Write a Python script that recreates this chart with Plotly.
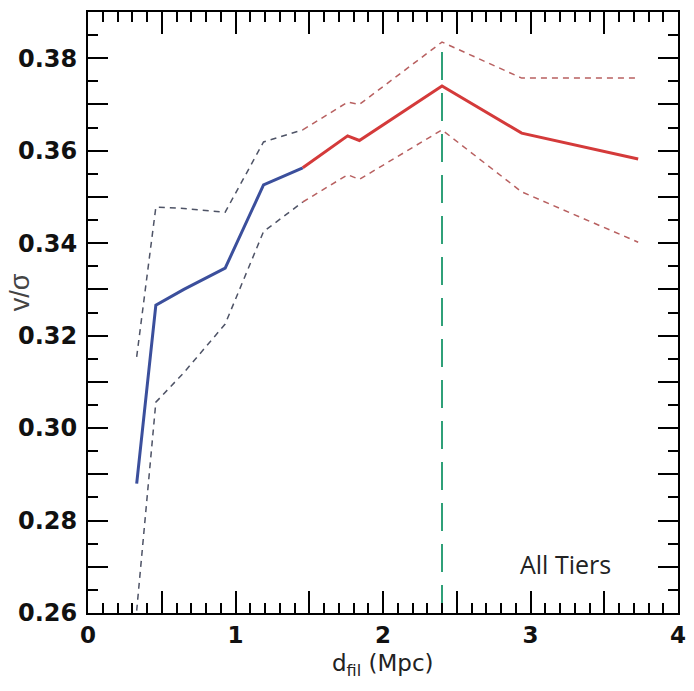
import plotly.graph_objects as go

# ---- data ----
d_fil = [0.33, 0.46, 0.65, 0.93, 1.19, 1.456, 1.76, 1.84, 2.40, 2.94, 3.73]
v_sigma = [0.288, 0.3266, 0.330, 0.3346, 0.3526, 0.3563, 0.3632, 0.3622, 0.374, 0.3638, 0.3582]
upper = [0.3154, 0.3478, 0.3475, 0.3467, 0.3619, 0.3645, 0.3705, 0.3700, 0.3835, 0.3757, 0.3757]
lower = [0.2605, 0.3056, 0.3120, 0.3225, 0.3425, 0.3489, 0.3548, 0.3538, 0.3645, 0.3511, 0.3402]
split = 5  # index where the curve changes from blue to red

y_ticks = [0.26, 0.27, 0.28, 0.29, 0.30, 0.31, 0.32, 0.33, 0.34, 0.35, 0.36, 0.37, 0.38]
x_ticks = [0, 0.5, 1, 1.5, 2, 2.5, 3, 3.5, 4]

BLUE = "#3b4f9c"
RED = "#d43a3a"
DASH_L = "#4e5366"
DASH_R = "#b86060"
GREEN = "#2fa078"

fig = go.Figure()

# bands
for arr in (upper, lower):
    fig.add_trace(go.Scatter(x=d_fil[:split + 1], y=arr[:split + 1], mode="lines",
                             line=dict(color=DASH_L, width=1.5, dash="6px,5px"),
                             showlegend=False, hoverinfo="skip"))
    fig.add_trace(go.Scatter(x=d_fil[split:], y=arr[split:], mode="lines",
                             line=dict(color=DASH_R, width=1.5, dash="6px,5px"),
                             showlegend=False, hoverinfo="skip"))

# main curve
fig.add_trace(go.Scatter(x=d_fil[:split + 1], y=v_sigma[:split + 1], mode="lines",
                         line=dict(color=BLUE, width=3), showlegend=False))
fig.add_trace(go.Scatter(x=d_fil[split:], y=v_sigma[split:], mode="lines",
                         line=dict(color=RED, width=3), showlegend=False))

# vertical line at the peak
ipk = v_sigma.index(max(v_sigma))
fig.add_trace(go.Scatter(x=[d_fil[ipk], d_fil[ipk]], y=[y_ticks[0], upper[ipk]], mode="lines",
                         line=dict(color=GREEN, width=2, dash="28px,13px"),
                         showlegend=False, hoverinfo="skip"))

ytickfont = dict(family="DejaVu Sans", size=24, color="#111", weight="bold")
xtickfont = dict(family="DejaVu Sans", size=23, color="#111", weight="bold")

fig.update_xaxes(range=[0, 4], showline=True, linecolor="black", linewidth=2,
                 mirror="ticks", ticks="inside", ticklen=22, tickwidth=2, tickcolor="black",
                 tickvals=x_ticks,
                 ticktext=[("%g" % v) if float(v).is_integer() else "" for v in x_ticks],
                 tickfont=xtickfont, ticklabelstandoff=0,
                 minor=dict(dtick=0.1, ticks="inside", ticklen=10, tickwidth=1.5, tickcolor="black"),
                 showgrid=False, zeroline=False)
fig.update_yaxes(range=[0.26, 0.39], showline=True, linecolor="black", linewidth=2,
                 mirror="ticks", ticks="inside", ticklen=20, tickwidth=2, tickcolor="black",
                 tickvals=y_ticks,
                 ticktext=[("%.2f" % v) if i % 2 == 0 else "" for i, v in enumerate(y_ticks)],
                 tickfont=ytickfont, ticklabelstandoff=4,
                 minor=dict(dtick=0.005, ticks="inside", ticklen=10, tickwidth=1.5, tickcolor="black"),
                 showgrid=False, zeroline=False)

fig.add_annotation(text="All Tiers", x=3.24, y=0.2706, xref="x", yref="y", showarrow=False,
                   font=dict(family="Open Sans", size=25, color="#222"))
fig.add_annotation(text="v/σ", x=-0.115, y=0.534, xref="paper", yref="paper", showarrow=False,
                   xanchor="center", yanchor="middle",
                   textangle=-90, font=dict(family="Liberation Sans, Arial", size=27, color="#444"))
fig.add_annotation(text="d<sub>fil</sub> (Mpc)", x=0.5, y=-0.086, xref="paper", yref="paper",
                   showarrow=False, xanchor="center", yanchor="middle",
                   font=dict(family="DejaVu Sans", size=23, color="#222"))

fig.update_layout(width=694, height=691, margin=dict(l=88, r=8, t=12, b=78),
                  paper_bgcolor="white", plot_bgcolor="white")

fig.write_html("out.html")
